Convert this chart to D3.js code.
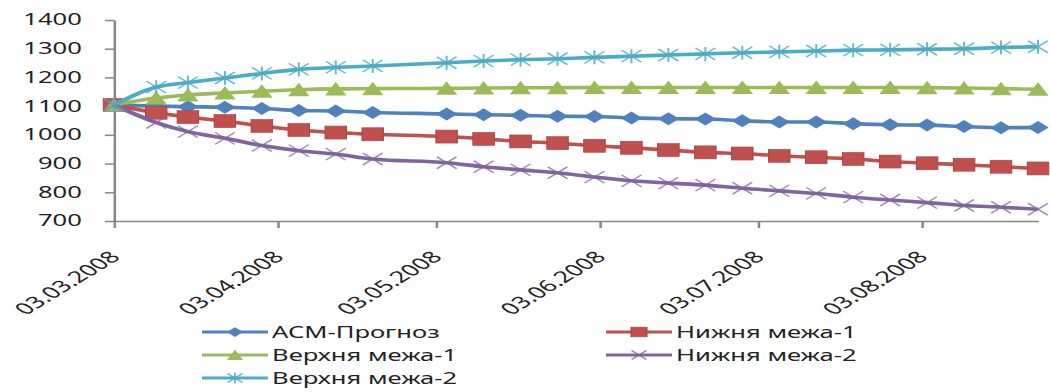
<!DOCTYPE html>
<html>
<head>
<meta charset="utf-8">
<script src="https://cdn.jsdelivr.net/npm/d3@7"></script>
<style>
  html, body { margin: 0; padding: 0; background: #fff; }
  svg { display: block; }
  text { font-family: "Noto Sans", "DejaVu Sans", sans-serif; fill: #222; }
</style>
</head>
<body>
<svg id="chart" width="1050" height="392"></svg>
<script>
// Weekly observation dates (trading Mondays, holidays skipped)
const dates = [
  "2008-03-03", "2008-03-11", "2008-03-17", "2008-03-24", "2008-03-31",
  "2008-04-07", "2008-04-14", "2008-04-21", "2008-05-05", "2008-05-12",
  "2008-05-19", "2008-05-26", "2008-06-02", "2008-06-09", "2008-06-16",
  "2008-06-23", "2008-06-30", "2008-07-07", "2008-07-14", "2008-07-21",
  "2008-07-28", "2008-08-04", "2008-08-11", "2008-08-18", "2008-08-25"
];

const seriesNames = ["АСМ-Прогноз", "Нижня межа-1", "Верхня межа-1", "Нижня межа-2", "Верхня межа-2"];

const forecast = [1104, 1100, 1098, 1096, 1092, 1085, 1083, 1078, 1073, 1070, 1068, 1065, 1064,
                  1059, 1056, 1055, 1049, 1045, 1045, 1039, 1035, 1034, 1029, 1025, 1026];
const lower1   = [1104, 1077, 1062, 1048, 1031, 1017, 1008, 1002, 994, 986, 977, 971, 962,
                  955, 947, 939, 935, 927, 922, 916, 907, 901, 896, 889, 883];
const upper1   = [1104, 1128, 1139, 1146, 1152, 1157, 1160, 1161, 1162, 1163, 1164, 1164, 1165,
                  1165, 1165, 1165, 1165, 1165, 1165, 1165, 1165, 1164, 1163, 1161, 1159];
const lower2   = [1104, 1043, 1011, 988, 963, 945, 933, 916, 903, 889, 878, 868, 853,
                  840, 832, 825, 814, 805, 796, 783, 773, 764, 754, 748, 741];
const upper2   = [1104, 1166, 1182, 1198, 1214, 1228, 1235, 1240, 1251, 1257, 1262, 1265, 1270,
                  1274, 1278, 1282, 1286, 1289, 1292, 1295, 1296, 1298, 1300, 1304, 1307];

const yTicks = [700, 800, 900, 1000, 1100, 1200, 1300, 1400];
const xTickDates = ["2008-03-03", "2008-04-03", "2008-05-03", "2008-06-03", "2008-07-03", "2008-08-03"];

const colors = ["#4F81BD", "#C0504D", "#9BBB59", "#8064A2", "#4BACC6"];
const markers = ["diamond", "square", "triangle", "cross", "star"];

// ---- drawing ----
const parse = d3.timeParse("%Y-%m-%d");
const fmt = d3.timeFormat("%d.%m.%Y");
const values = [forecast, lower1, upper1, lower2, upper2];
const series = seriesNames.map((name, i) => ({
  name, color: colors[i], marker: markers[i],
  points: dates.map((d, j) => ({ date: parse(d), value: values[i][j] }))
}));

// The whole chart is laid out in a horizontally stretched frame
const sx = 1.65;
const svg = d3.select("#chart");
const root = svg.append("g").attr("transform", `scale(${sx},1)`);

const x = d3.scaleTime()
  .domain([parse(dates[0]), parse(dates[dates.length - 1])])
  .range([114 / sx, 1038 / sx]);
const y = d3.scaleLinear().domain([700, 1400]).range([221, 20]);

const axisColor = "#868686";

// y axis
const gy = root.append("g")
  .attr("transform", `translate(${x.range()[0]},0)`)
  .call(d3.axisLeft(y).tickValues(yTicks).tickSize(5.5).tickSizeOuter(0).tickPadding(14).tickFormat(d3.format("d")));
gy.selectAll("text").style("font-size", "15.5px").attr("fill", "#222");

// x axis
const gx = root.append("g")
  .attr("transform", `translate(0,${y(700)})`)
  .call(d3.axisBottom(x).tickValues(xTickDates.map(parse)).tickSize(7).tickSizeOuter(0).tickFormat(fmt));
gx.selectAll("text")
  .style("font-size", "16px")
  .attr("fill", "#222")
  .attr("x", 0).attr("y", 0).attr("dy", null)
  .attr("text-anchor", "end")
  .attr("transform", "translate(4,37) rotate(-45)");

[gx, gy].forEach(g => {
  g.select(".domain").attr("stroke", axisColor).attr("stroke-width", 1.5);
  g.selectAll(".tick line").attr("stroke", axisColor).attr("stroke-width", 1.5);
});

// marker shapes
function drawMarker(sel, type, color, k) {
  const s = k;
  if (type === "diamond") {
    sel.append("path").attr("d", `M0,${-6.5*s}L${6.5*s},0L0,${6.5*s}L${-6.5*s},0Z`).attr("fill", color);
  } else if (type === "square") {
    sel.append("rect").attr("x", -6.5*s).attr("y", -6.5*s).attr("width", 13*s).attr("height", 13*s)
      .attr("fill", color).attr("stroke", d3.color(color).darker(0.4)).attr("stroke-width", 0.6);
  } else if (type === "triangle") {
    sel.append("path").attr("d", `M0,${-7*s}L${6.5*s},${6.5*s}L${-6.5*s},${6.5*s}Z`).attr("fill", color);
  } else if (type === "cross") {
    sel.append("path").attr("d", `M${-6*s},${-6*s}L${6*s},${6*s}M${-6*s},${6*s}L${6*s},${-6*s}`)
      .attr("stroke", color).attr("stroke-width", 1.2).attr("stroke-opacity", 0.75).attr("fill", "none");
  } else if (type === "star") {
    sel.append("path").attr("d", `M${-6*s},${-6*s}L${6*s},${6*s}M${-6*s},${6*s}L${6*s},${-6*s}M0,${-7*s}L0,${7*s}`)
      .attr("stroke", color).attr("stroke-width", 1.2).attr("stroke-opacity", 0.85).attr("fill", "none");
  }
}

const line = d3.line()
  .x(d => x(d.date))
  .y(d => y(d.value))
  .curve(d3.curveMonotoneX);

series.forEach(s => {
  const g = root.append("g");
  g.append("path")
    .datum(s.points)
    .attr("d", line)
    .attr("fill", "none")
    .attr("stroke", s.color)
    .attr("stroke-width", 3.6)
    .attr("stroke-linejoin", "round");
  g.selectAll("g.pt").data(s.points).join("g")
    .attr("class", "pt")
    .attr("transform", d => `translate(${x(d.date)},${y(d.value)})`)
    .each(function () { drawMarker(d3.select(this), s.marker, s.color, 1); });
});

// legend: two columns, filled row by row
const legendCols = [202 / sx, 606 / sx];
const legend = root.append("g");
series.forEach((s, i) => {
  const lx = legendCols[i % 2];
  const ly = 332 + Math.floor(i / 2) * 23;
  const g = legend.append("g").attr("transform", `translate(${lx},${ly})`);
  g.append("line").attr("x1", 0).attr("x2", 40).attr("y1", 0).attr("y2", 0)
    .attr("stroke", s.color).attr("stroke-width", 3);
  drawMarker(g.append("g").attr("transform", "translate(20,0)"), s.marker, s.color, 0.75);
  g.append("text").attr("x", 42.5).attr("y", 0).attr("dy", "0.36em")
    .style("font-size", "15.5px").text(s.name);
});
</script>
</body>
</html>
